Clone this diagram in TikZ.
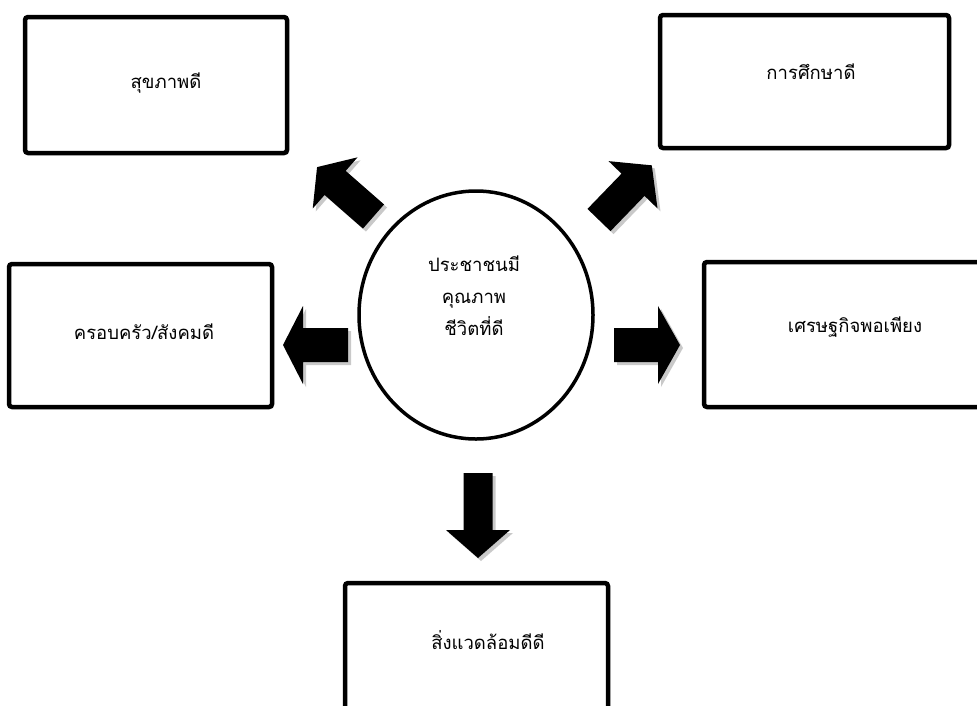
\documentclass[tikz,border=0pt]{standalone}
\usepackage{fontspec}
\newfontfamily\thaifont[Script=Thai]{Loma}
\usetikzlibrary{shapes.geometric,shadows}
\tikzset{
  box/.style={draw=black, line width=4.5pt, rounded corners=3pt, fill=white,
    drop shadow={shadow xshift=2pt, shadow yshift=-2pt, opacity=0.3, fill=black!60}},
  lbl/.style={font=\thaifont\fontsize{18.5}{32}\selectfont, align=center, inner sep=0pt},
  arr/.style={fill=black, drop shadow={shadow xshift=3pt, shadow yshift=-3pt, opacity=0.35, fill=black!60}},
  oval/.style={draw=black, line width=3.5pt, ellipse, fill=white}
}
% tail x, tail y, angle, length, shaft width, head width, head length
\newcommand{\blockarr}[7]{%
  \fill[arr, shift={(#1,#2)}, rotate=#3]
    (0,{-#5/2}) -- ({#4-#7},{-#5/2}) -- ({#4-#7},{-#6/2}) -- (#4,0)
    -- ({#4-#7},{#6/2}) -- ({#4-#7},{#5/2}) -- (0,{#5/2}) -- cycle;}
\begin{document}
\begin{tikzpicture}[x=1pt,y=-1pt]
\useasboundingbox (0,0) rectangle (977,705);
\clip (0,0) rectangle (977,705);
\fill[white] (0,0) rectangle (977,705);
% boxes
\node[box, minimum width=262, minimum height=136] (b1) at (156,85) {};
\node[box, minimum width=289, minimum height=133] (b2) at (804.5,81.5) {};
\node[box, minimum width=263, minimum height=143] (b3) at (140.5,335.5) {};
\node[box, minimum width=290, minimum height=145] (b4) at (849,334.5) {};
\node[box, minimum width=263, minimum height=150] (b5) at (476.5,658) {};
% labels
\node[lbl] (t1) at (166,83) {สุขภาพดี};
\node[lbl] (t2) at (811,72) {การศึกษาดี};
\node[lbl] (t3) at (144,332) {ครอบครัว/สังคมดี};
\node[lbl] (t4) at (855,327) {เศรษฐกิจพอเพียง};
\node[lbl] (t5) at (488,640) {สิ่งแวดล้อมดีดี};
% centre
\node[oval, minimum width=234, minimum height=248] (c) at (476,315) {};
\node[lbl] (ct) at (474,296) {ประชาชนมี\\คุณภาพ\\ชีวิตที่ดี};
% block arrows
\blockarr{348}{345}{180}{65}{34}{78}{20}
\blockarr{614}{345}{0}{66}{34}{78}{22}
\blockarr{478}{473}{-90}{85}{29}{64}{28}
\blockarr{373.5}{216.5}{138.8}{75}{32}{68}{24}
\blockarr{599}{220}{46}{76}{32}{68}{27}
\end{tikzpicture}
\end{document}
